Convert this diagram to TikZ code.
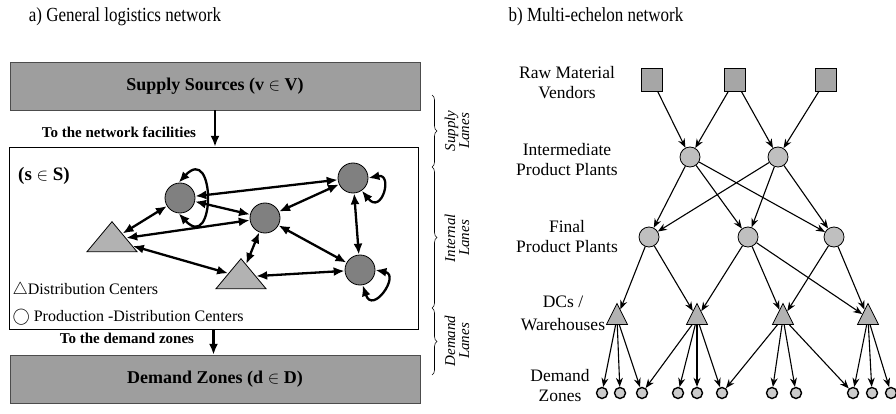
\documentclass[tikz,border=0pt]{standalone}
\usepackage{fontspec}
\setmainfont{Liberation Serif}
\newfontfamily\titlefont{Liberation Serif}[FakeStretch=0.85]
\usepackage{tikz}
\usetikzlibrary{arrows.meta,shapes.geometric,decorations.pathreplacing}

\begin{document}
\begin{tikzpicture}[x=1pt,y=1pt,
    lanebox/.style={draw=black!70,fill=black!38,minimum width=410pt,minimum height=48pt,font=\bfseries\fontsize{18}{20}\selectfont},
    pdc/.style={circle,draw,thick,fill=black!50,minimum size=30pt,inner sep=0pt},
    dcen/.style={isosceles triangle,isosceles triangle stretches,shape border rotate=90,draw,thick,fill=black!30,minimum width=50pt,minimum height=30pt,inner sep=0pt},
    link/.style={{Latex[length=11pt,width=9pt]}-{Latex[length=11pt,width=9pt]},line width=2.3pt},
    flow/.style={-{Latex[length=11pt,width=9pt]},line width=2.3pt},
    lanelbl/.style={font=\itshape\fontsize{15}{14}\selectfont,rotate=90,align=center},
    lbl/.style={font=\fontsize{17.5}{20}\selectfont,align=center},
    vendor/.style={draw,thick,fill=black!35,minimum width=21pt,minimum height=23pt,inner sep=0pt},
    plant/.style={circle,draw,thick,fill=black!25,minimum size=20pt,inner sep=0pt},
    whs/.style={isosceles triangle,isosceles triangle stretches,shape border rotate=90,draw,thick,fill=black!30,minimum width=21pt,minimum height=21pt,inner sep=0pt},
    zone/.style={circle,draw,line width=1.4pt,fill=black!20,minimum size=11pt,inner sep=0pt},
    arr/.style={-{Stealth[length=9pt,width=7pt]},line width=1.1pt}]
  \useasboundingbox (0,0) rectangle (896,-414);

  \node[font=\titlefont\fontsize{20}{22}\selectfont] (ta) at (125,-17) {a) General logistics network};
  \node[font=\titlefont\fontsize{20}{22}\selectfont] (tb) at (596,-17) {b) Multi-echelon network};

  % general network
  \node[lanebox] (supply) at (215,-86) {Supply Sources (v $\in$ V)};
  \node[draw,minimum width=409pt,minimum height=182pt,inner sep=0pt] (net) at (213.5,-238) {};
  \node[lanebox] (demand) at (215,-379) {Demand Zones (d $\in$ D)};
  \draw[flow] (supply.south) -- (supply.south |- net.north);
  \draw[flow] (net.south) -- (net.south |- demand.north);
  \node[font=\bfseries\fontsize{15}{17}\selectfont] (tonet) at (119,-132) {To the network facilities};
  \node[font=\bfseries\fontsize{15}{17}\selectfont] (todem) at (127,-338) {To the demand zones};
  \node[font=\bfseries\fontsize{19}{21}\selectfont] (sset) at (44,-176) {(s $\in$ S)};

  \node[pdc] (c1) at (180,-198) {};
  \node[pdc] (c2) at (265,-218) {};
  \node[pdc] (c3) at (353,-178) {};
  \node[pdc] (c4) at (360,-270) {};
  \node[dcen] (t1) at (112,-240) {};
  \node[dcen] (t2) at (241,-277) {};
  \draw[link] (c1) -- (t1);
  \draw[link] (c1) -- (c3);
  \draw[link] (c1) -- (c2);
  \draw[link] (c2) -- (c3);
  \draw[link] (c2) -- (t1);
  \draw[link] (c2) -- (t2);
  \draw[link] (c2) -- (c4);
  \draw[link] (c3) -- (c4);
  \draw[link] (t1) -- (t2);
  \draw[link] (t2) -- (c4);
  \draw[link] (c1.95) .. controls +(37,40) and +(37,-40) .. (c1.-95);
  \draw[link] (c3.0) .. controls +(25,5) and +(20,-25) .. (c3.-55);
  \draw[link] (c4.0) .. controls +(25,-5) and +(10,-30) .. (c4.-80);

  \node[anchor=west,font=\fontsize{16}{18}\selectfont] (leg1) at (9,-290) {$\triangle$Distribution Centers};
  \node[anchor=west,font=\fontsize{16}{18}\selectfont] (leg2) at (9,-317) {$\bigcirc$ Production -Distribution Centers};

  % lanes
  \coordinate (b0) at (432,-95);
  \coordinate (b1) at (432,-167);
  \coordinate (b2) at (432,-308);
  \coordinate (b3) at (432,-375);
  \draw[semithick,decorate,decoration={brace,amplitude=5pt}] (b0) -- (b1);
  \draw[semithick,decorate,decoration={brace,amplitude=5pt}] (b1) -- (b2);
  \draw[semithick,decorate,decoration={brace,amplitude=5pt}] (b2) -- (b3);
  \node[lanelbl] (lsup) at (457,-131) {Supply\\Lanes};
  \node[lanelbl] (lint) at (457,-238) {Internal\\Lanes};
  \node[lanelbl] (ldem) at (457,-341) {Demand\\Lanes};

  % multi-echelon network
  \node[lbl] (nvend) at (567,-83) {Raw Material\\Vendors};
  \node[lbl] (ninter) at (567,-160) {Intermediate\\Product Plants};
  \node[lbl] (nfinal) at (567,-237) {Final\\Product Plants};
  \node[lbl] (nwh) at (563,-313) {DCs /\\[3pt]Warehouses};
  \node[lbl] (nzone) at (560,-386) {Demand\\Zones};

  \foreach \x [count=\n] in {652,735,826}
    \node[vendor] (v\n) at (\x,-80) {};
  \foreach \x [count=\n] in {690,778}
    \node[plant] (i\n) at (\x,-157) {};
  \foreach \x [count=\n] in {649,748,834}
    \node[plant] (f\n) at (\x,-237) {};
  \foreach \x [count=\n] in {617,697,783,868}
    \node[whs] (d\n) at (\x,-318) {};
  \foreach \x [count=\n] in {602,620,642,678,697,722,772,796,853,872,891}
    \node[zone] (z\n) at (\x,-393) {};

  \foreach \a/\b in {v1/i1,v2/i1,v2/i2,v3/i2,i1/f1,i1/f2,i1/f3,i2/f1,i2/f2,i2/f3,
      f1/d1,f1/d2,f2/d2,f2/d3,f2/d4,f3/d3,f3/d4,
      d1/z1,d1/z2,d1/z3,d2/z3,d2/z4,d2/z5,d2/z6,d3/z6,d3/z7,d3/z8,d3/z9,d4/z9,d4/z10,d4/z11}
    \draw[arr] (\a) -- (\b);
\end{tikzpicture}
\end{document}
